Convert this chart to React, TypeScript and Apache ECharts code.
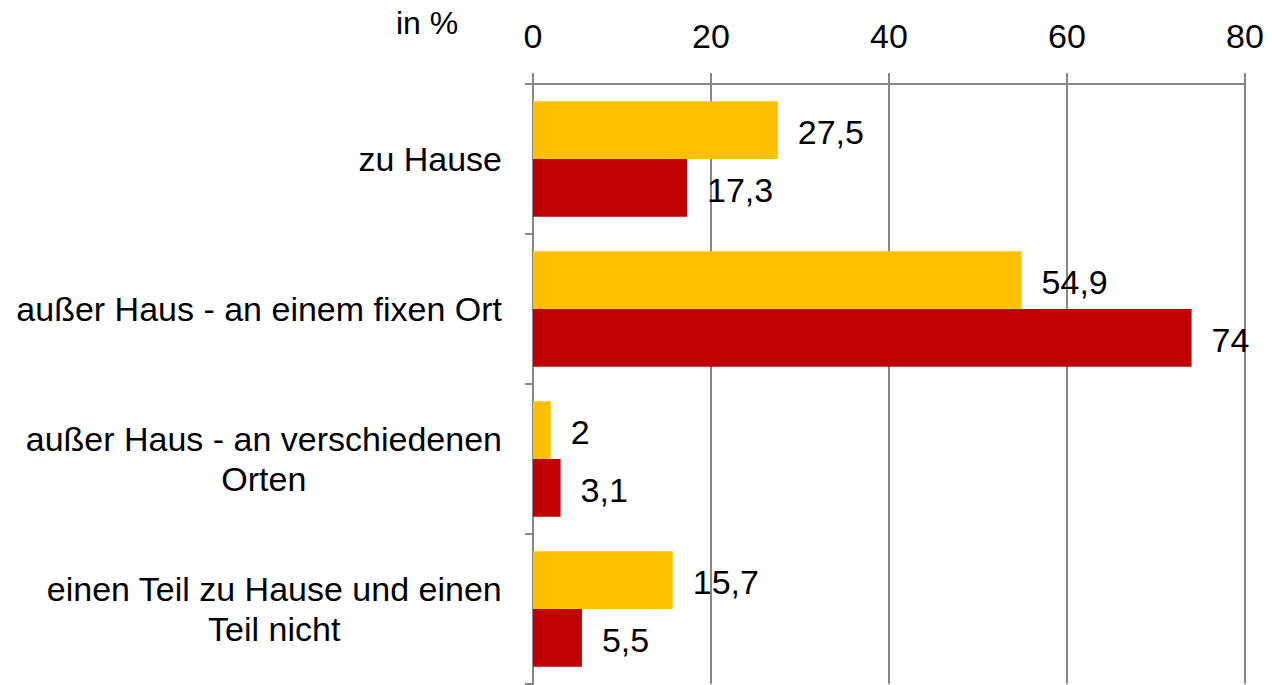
import React, { useEffect, useRef } from "react";
import * as echarts from "echarts";

const categories = [
  "zu Hause",
  "außer Haus - an einem fixen Ort",
  "außer Haus - an verschiedenen\nOrten",
  "einen Teil zu Hause und einen\nTeil nicht",
];
const seriesYellow = [27.5, 54.9, 2, 15.7];
const seriesRed = [17.3, 74, 3.1, 5.5];
const xTicks = { min: 0, max: 80, interval: 20 };
const unitLabel = "in %";

const FONT = "Liberation Sans, Arial, sans-serif";

export default function App() {
  const ref = useRef<HTMLDivElement>(null);
  useEffect(() => {
    if (!ref.current) return;
    const chart = echarts.init(ref.current, undefined, { renderer: "svg" });
    const fmt = (p: any) => String(p.value).replace(".", ",");
    const labelCfg = {
      show: true,
      position: "right",
      distance: 20,
      color: "#000",
      fontSize: 34,
      fontFamily: FONT,
      formatter: fmt,
      offset: [0, 2],
    };
    chart.setOption({
      animation: false,
      textStyle: { fontFamily: FONT },
      grid: { left: 533, right: 27, top: 84, bottom: 1, containLabel: false },
      xAxis: {
        type: "value",
        position: "top",
        min: xTicks.min,
        max: xTicks.max,
        interval: xTicks.interval,
        axisLine: { show: true, lineStyle: { color: "#888", width: 2 } },
        axisTick: { show: true, length: 11, lineStyle: { color: "#888", width: 2 } },
        splitLine: { show: true, lineStyle: { color: "#888", width: 2 } },
        axisLabel: { color: "#000", fontSize: 34, fontFamily: FONT, margin: 31 },
      },
      yAxis: {
        type: "category",
        inverse: true,
        data: categories,
        axisLine: { show: true, lineStyle: { color: "#888", width: 2 } },
        axisTick: { show: true, length: 8, lineStyle: { color: "#888", width: 2 } },
        axisLabel: {
          color: "#000",
          fontSize: 34,
          fontFamily: FONT,
          margin: 31,
          align: "right",
          formatter: (v: string) =>
            v.split("\n").map((l) => `{c|${l}}`).join("\n"),
          rich: {
            c: { align: "center", fontSize: 34, fontFamily: FONT, color: "#000", lineHeight: 40 },
          },
        },
      },
      graphic: [
        {
          type: "text",
          left: 396,
          top: 7,
          style: { text: unitLabel, fontSize: 32, fontFamily: FONT, fill: "#000" },
        },
      ],
      series: [
        {
          type: "bar",
          data: seriesYellow,
          barGap: "0%",
          barCategoryGap: "23%",
          itemStyle: { color: "#FFC000" },
          label: labelCfg,
        },
        {
          type: "bar",
          data: seriesRed,
          barGap: "0%",
          barCategoryGap: "23%",
          itemStyle: { color: "#C00000" },
          label: labelCfg,
        },
      ],
    });
    return () => chart.dispose();
  }, []);
  return (
    <div
      ref={ref}
      style={{ position: "fixed", left: 0, top: 0, width: 1272, height: 685, background: "#fff" }}
    />
  );
}
